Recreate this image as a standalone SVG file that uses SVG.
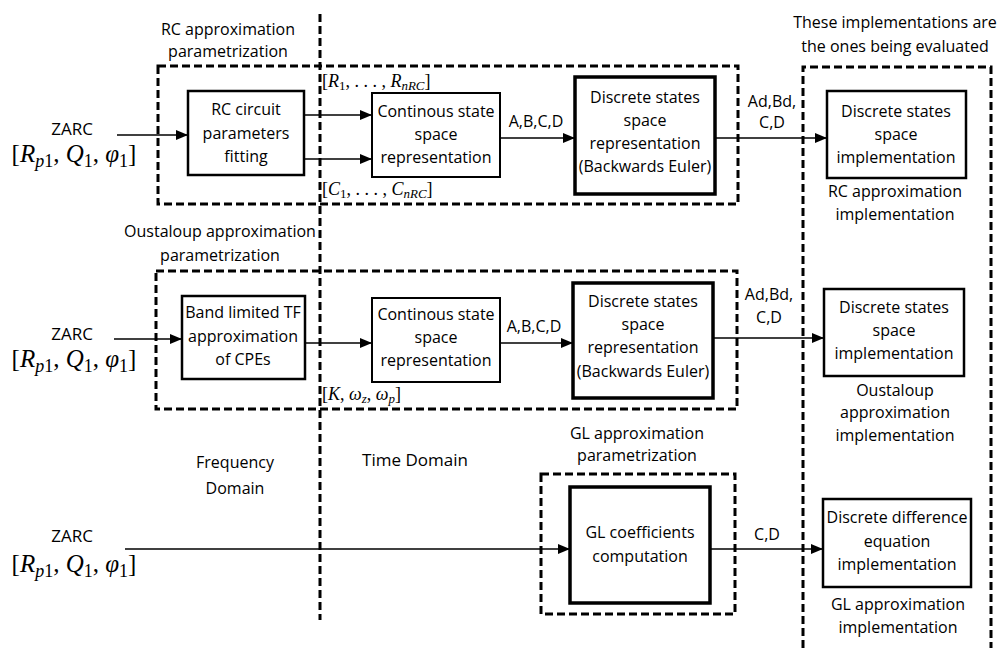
<svg xmlns="http://www.w3.org/2000/svg" width="1006" height="648" viewBox="0 0 1006 648">
<style>
text{font-family:"Open Sans","Liberation Sans",sans-serif;font-size:16px;fill:#000;text-anchor:middle}
.lbl{font-size:16px}
.m{font-family:"Liberation Serif","DejaVu Serif",serif;font-size:25px;text-anchor:middle}
.ms{font-family:"Liberation Serif","DejaVu Serif",serif;font-size:18px;text-anchor:start}
.i{font-style:italic}
.sb{font-size:72%}
.dash{fill:none;stroke:#000;stroke-width:3;stroke-dasharray:8,4}
.box{fill:#fff;stroke:#000;stroke-width:2.5}
.thick{fill:#fff;stroke:#000;stroke-width:3.5}
.thin{fill:#fff;stroke:#000;stroke-width:2}
.arr{stroke:#000;stroke-width:1.5;fill:none;marker-end:url(#ah)}
</style>
<defs>
<marker id="ah" markerUnits="userSpaceOnUse" markerWidth="12" markerHeight="10" refX="12" refY="5" orient="auto">
<path d="M0,0 L12,5 L0,10 z" fill="#000"/>
</marker>
</defs>
<rect width="1006" height="648" fill="#fff"/>

<g id="regions">
<line x1="320" y1="14" x2="320" y2="620" class="dash"/>
<rect id="rc-param" x="158" y="66" width="580" height="138" class="dash"/>
<rect id="oust-param" x="156" y="271" width="581" height="138" class="dash"/>
<rect id="gl-param" x="541" y="474" width="194" height="140" class="dash"/>
<path id="evaluated" d="M803,660 V67 H991 V660" class="dash"/>
</g>

<g id="connectors">
<line x1="117" y1="135" x2="188" y2="135" class="arr"/>
<line x1="304" y1="115" x2="372" y2="115" class="arr"/>
<line x1="304" y1="159" x2="372" y2="159" class="arr"/>
<line x1="500" y1="138" x2="575" y2="138" class="arr"/>
<line x1="715" y1="138" x2="827" y2="138" class="arr"/>
<line x1="114" y1="339" x2="182" y2="339" class="arr"/>
<line x1="305" y1="343" x2="372" y2="343" class="arr"/>
<line x1="500" y1="343" x2="573" y2="343" class="arr"/>
<line x1="713" y1="338" x2="824" y2="338" class="arr"/>
<line x1="125" y1="549" x2="570" y2="549" class="arr"/>
<line x1="710" y1="549" x2="823" y2="549" class="arr"/>
</g>

<g id="labels">
<text class="lbl" x="228" y="35">RC approximation</text>
<text class="lbl" x="228" y="57">parametrization</text>
<text class="lbl" x="895" y="28">These implementations are</text>
<text class="lbl" x="895" y="52">the ones being evaluated</text>
<text class="lbl" x="536" y="127">A,B,C,D</text>
<text class="lbl" x="772" y="107">Ad,Bd,</text>
<text class="lbl" x="772" y="128">C,D</text>
<text class="lbl" x="895" y="197">RC approximation</text>
<text class="lbl" x="895" y="220">implementation</text>
<text class="lbl" x="220" y="237">Oustaloup approximation</text>
<text class="lbl" x="220" y="261">parametrization</text>
<text class="lbl" x="534" y="332">A,B,C,D</text>
<text class="lbl" x="769" y="300">Ad,Bd,</text>
<text class="lbl" x="769" y="323">C,D</text>
<text class="lbl" x="895" y="396">Oustaloup</text>
<text class="lbl" x="895" y="418">approximation</text>
<text class="lbl" x="895" y="441">implementation</text>
<text class="lbl" x="637" y="439">GL approximation</text>
<text class="lbl" x="637" y="461">parametrization</text>
<text class="lbl" x="235" y="468">Frequency</text>
<text class="lbl" x="235" y="494">Domain</text>
<text class="lbl" x="415" y="466" style="font-size:17px">Time Domain</text>
<text class="lbl" x="767" y="540">C,D</text>
<text class="lbl" x="898" y="610">GL approximation</text>
<text class="lbl" x="898" y="633">implementation</text>
<text class="ms" x="322" y="87">[<tspan class="i">R</tspan><tspan class="sb" dy="3">1</tspan><tspan dy="-3">, . . . , </tspan><tspan class="i">R</tspan><tspan class="sb i" dy="3">nRC</tspan><tspan dy="-3">]</tspan></text>
<text class="ms" x="322" y="195">[<tspan class="i">C</tspan><tspan class="sb" dy="3">1</tspan><tspan dy="-3">, . . . , </tspan><tspan class="i">C</tspan><tspan class="sb i" dy="3">nRC</tspan><tspan dy="-3">]</tspan></text>
<text class="ms" x="322" y="400">[<tspan class="i">K</tspan>, <tspan class="i">ω</tspan><tspan class="sb i" dy="3">z</tspan><tspan dy="-3">, </tspan><tspan class="i">ω</tspan><tspan class="sb i" dy="3">p</tspan><tspan dy="-3">]</tspan></text>
</g>

<g id="zarc1">
<text class="lbl" x="72" y="135" style="font-size:17px">ZARC</text>
<text class="m" x="74" y="162">[<tspan class="i">R</tspan><tspan class="sb" dy="5"><tspan class="i">p</tspan>1</tspan><tspan dy="-5">, </tspan><tspan class="i">Q</tspan><tspan class="sb" dy="5">1</tspan><tspan dy="-5">, </tspan><tspan class="i">φ</tspan><tspan class="sb" dy="5">1</tspan><tspan dy="-5">]</tspan></text>
</g>
<g id="zarc2">
<text class="lbl" x="72" y="340" style="font-size:17px">ZARC</text>
<text class="m" x="74" y="367">[<tspan class="i">R</tspan><tspan class="sb" dy="5"><tspan class="i">p</tspan>1</tspan><tspan dy="-5">, </tspan><tspan class="i">Q</tspan><tspan class="sb" dy="5">1</tspan><tspan dy="-5">, </tspan><tspan class="i">φ</tspan><tspan class="sb" dy="5">1</tspan><tspan dy="-5">]</tspan></text>
</g>
<g id="zarc3">
<text class="lbl" x="72" y="542" style="font-size:17px">ZARC</text>
<text class="m" x="74" y="572">[<tspan class="i">R</tspan><tspan class="sb" dy="5"><tspan class="i">p</tspan>1</tspan><tspan dy="-5">, </tspan><tspan class="i">Q</tspan><tspan class="sb" dy="5">1</tspan><tspan dy="-5">, </tspan><tspan class="i">φ</tspan><tspan class="sb" dy="5">1</tspan><tspan dy="-5">]</tspan></text>
</g>

<g id="rc-fit">
<rect x="188" y="91" width="116" height="84" class="box"/>
<text x="246" y="115">RC circuit</text>
<text x="246" y="139">parameters</text>
<text x="246" y="162">fitting</text>
</g>
<g id="cont1">
<rect x="372" y="93" width="128" height="84" class="thin"/>
<text x="436" y="117">Continous state</text>
<text x="436" y="140">space</text>
<text x="436" y="163">representation</text>
</g>
<g id="disc1">
<rect x="575" y="77" width="140" height="117" class="thick"/>
<text x="645" y="103">Discrete states</text>
<text x="645" y="126">space</text>
<text x="645" y="149">representation</text>
<text x="645" y="172">(Backwards Euler)</text>
</g>
<g id="impl1">
<rect x="827" y="91" width="139" height="87" class="box"/>
<text x="896" y="117">Discrete states</text>
<text x="896" y="140">space</text>
<text x="896" y="163">implementation</text>
</g>

<g id="band">
<rect x="182" y="296" width="123" height="83" class="box"/>
<text x="243" y="318">Band limited TF</text>
<text x="243" y="342">approximation</text>
<text x="243" y="365">of CPEs</text>
</g>
<g id="cont2">
<rect x="372" y="298" width="128" height="84" class="thin"/>
<text x="436" y="320">Continous state</text>
<text x="436" y="343">space</text>
<text x="436" y="366">representation</text>
</g>
<g id="disc2">
<rect x="573" y="283" width="140" height="115" class="thick"/>
<text x="643" y="307">Discrete states</text>
<text x="643" y="330">space</text>
<text x="643" y="353">representation</text>
<text x="643" y="377">(Backwards Euler)</text>
</g>
<g id="impl2">
<rect x="824" y="289" width="140" height="87" class="box"/>
<text x="894" y="313">Discrete states</text>
<text x="894" y="336">space</text>
<text x="894" y="359">implementation</text>
</g>

<g id="glcoef">
<rect x="570" y="487" width="140" height="116" class="thick"/>
<text x="640" y="538">GL coefficients</text>
<text x="640" y="562">computation</text>
</g>
<g id="impl3">
<rect x="823" y="499" width="148" height="88" class="box"/>
<text x="897" y="523">Discrete difference</text>
<text x="897" y="547">equation</text>
<text x="897" y="570">implementation</text>
</g>
</svg>
